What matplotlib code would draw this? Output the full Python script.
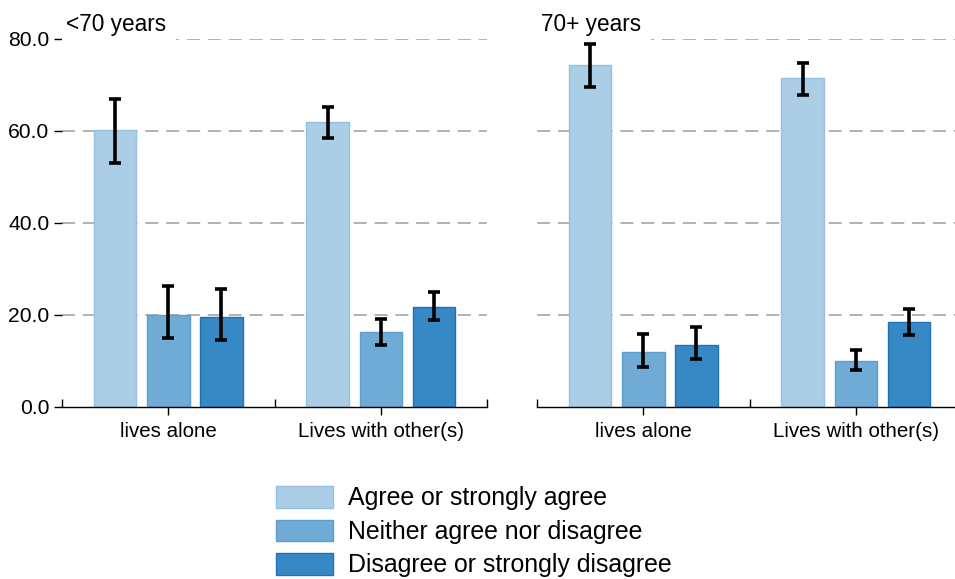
import numpy as np
import matplotlib
matplotlib.use("Agg")
import matplotlib.pyplot as plt
from matplotlib.patches import Patch, Rectangle
from matplotlib.ticker import FixedLocator
import matplotlib.transforms as mtransforms

plt.rcParams['font.family'] = ['Liberation Sans', 'DejaVu Sans']
plt.rcParams['lines.scale_dashes'] = False

# Data: share of respondents (%) with 95% confidence bounds
categories = ["lives alone", "Lives with other(s)"]
panels = ["<70 years", "70+ years"]
responses = ["Agree or strongly agree", "Neither agree nor disagree",
             "Disagree or strongly disagree"]

under70_agree = [60.2, 62.0]
under70_neither = [20.1, 16.2]
under70_disagree = [19.6, 21.8]
under70_low = [[53.1, 58.5], [14.9, 13.5], [14.6, 18.9]]
under70_high = [[66.9, 65.2], [26.4, 19.1], [25.6, 24.9]]

over70_agree = [74.3, 71.5]
over70_neither = [12.0, 10.0]
over70_disagree = [13.5, 18.4]
over70_low = [[69.5, 67.8], [8.8, 8.0], [10.5, 15.7]]
over70_high = [[78.9, 74.8], [15.9, 12.5], [17.4, 21.3]]

yticks = [0, 20, 40, 60, 80]

fills = ["#abcde6", "#70abd6", "#3789c5"]
edges = ["#94c1e3", "#5b9ecf", "#1f72b8"]

panel_data = [
    ([under70_agree, under70_neither, under70_disagree], under70_low, under70_high),
    ([over70_agree, over70_neither, over70_disagree], over70_low, over70_high),
]

W, H = 955, 579
fig = plt.figure(figsize=(W / 100, H / 100), dpi=100)

ax_w = 425 / W
ax_b = 1 - 407 / H
ax_h = (407 - 39) / H
lefts = [62 / W, 537 / W]

x = np.arange(len(categories))
bar_w = 0.2
offsets = [-0.25, 0.0, 0.25]

for p, (title, (vals, lows, highs)) in enumerate(zip(panels, panel_data)):
    ax = fig.add_axes([lefts[p], ax_b, ax_w, ax_h])
    ax.set_axisbelow(True)
    for i in range(3):
        v = np.array(vals[i])
        lo = np.array(lows[i])
        hi = np.array(highs[i])
        ax.bar(x + offsets[i], v, width=bar_w, color=fills[i],
               edgecolor=edges[i], linewidth=1.0, zorder=1)
        ax.errorbar(x + offsets[i], v, yerr=[v - lo, hi - v], fmt='none',
                    ecolor='black', elinewidth=2.6, capsize=4.0,
                    capthick=2.6, zorder=3)
    ax.set_xlim(-0.5, len(categories) - 0.5)
    ax.set_ylim(0, 80)
    ax.yaxis.set_major_locator(FixedLocator(yticks))
    ax.yaxis.grid(True, color='#9c9c9c', linewidth=1.1, dashes=(9.4, 5.6))
    ax.get_ygridlines()[0].set_visible(False)
    for s in ['top', 'right', 'left']:
        ax.spines[s].set_visible(False)
    ax.spines['bottom'].set_color('black')
    ax.spines['bottom'].set_linewidth(1.0)

    ax.set_xticks(x)
    ax.set_xticklabels(categories, fontsize=14.8)
    ax.set_xticks(np.arange(-0.5, len(categories), 1.0), minor=True)
    ax.tick_params(axis='x', which='major', direction='out', length=6,
                   width=1.0, pad=5)
    ax.tick_params(axis='x', which='minor', direction='in', length=6,
                   width=1.0)
    if p == 0:
        ax.set_yticklabels([f"{t:.1f}" for t in yticks], fontsize=15.2)
        ax.tick_params(axis='y', direction='out', length=6, width=1.0, pad=3)
    else:
        ax.tick_params(axis='y', left=False, labelleft=False)

    # white strip behind the panel title so the top grid line starts after it
    trans = mtransforms.blended_transform_factory(ax.transAxes, ax.transData)
    ax.add_patch(Rectangle((0, 78.6), 0.268, 3.0, transform=trans,
                           facecolor='white', edgecolor='none',
                           zorder=0.7, clip_on=False))
    ax.text(4 / 425, 1 + 14 / 368, title, transform=ax.transAxes,
            fontsize=16.3, ha='left', va='center', zorder=4, clip_on=False)

handles = [Patch(facecolor=fills[i], edgecolor=edges[i], linewidth=1.0)
           for i in range(3)]
fig.legend(handles, responses, loc='upper left',
           bbox_to_anchor=(276 / W, 1 - 486 / H), frameon=False,
           fontsize=17.9, handlelength=2.29, handleheight=0.96,
           handletextpad=0.6, labelspacing=0.37, borderpad=0,
           borderaxespad=0)

fig.savefig("out.png", dpi=100)
